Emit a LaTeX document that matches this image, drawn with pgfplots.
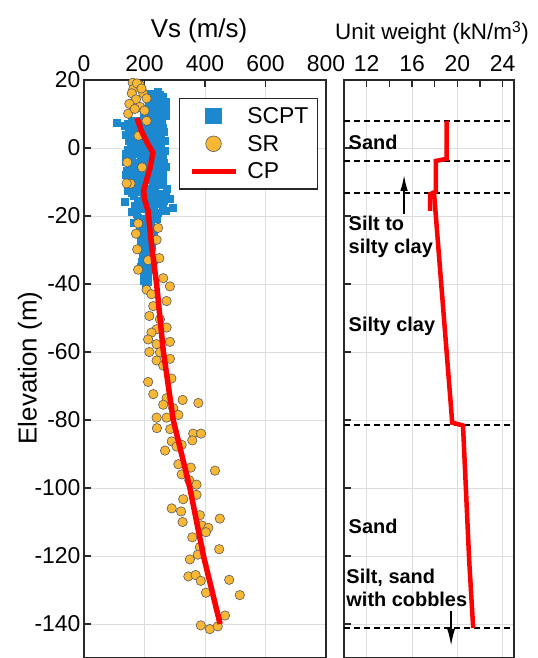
\documentclass[border=0pt]{standalone}
\usepackage{pgfplots}
\pgfplotsset{compat=1.18}
\usetikzlibrary{arrows.meta}
\usepackage{fontspec}
\setmainfont{Liberation Sans}
\definecolor{scptblue}{RGB}{28,136,208}
\definecolor{srorange}{RGB}{248,184,54}
\definecolor{gridgray}{RGB}{222,222,222}
\definecolor{axisgray}{RGB}{40,40,40}
\begin{document}
\begin{tikzpicture}
\useasboundingbox (0bp,0bp) rectangle (538bp,-658bp);
\pgfplotsset{
  every axis/.append style={
    scale only axis,
    tick align=inside,
    axis line style={line width=1.5bp, axisgray},
    every tick/.style={line width=1.2bp, axisgray},
    major tick length=7bp,
    minor tick length=7bp,
    grid=major,
    major grid style={line width=0.8bp, gridgray},
    tick label style={font=\fontsize{23}{26}\selectfont},
    xticklabel style={yshift=5bp},
    /pgf/number format/assume math mode=true,
    xtick pos=right, xticklabel pos=right,
    ytick pos=left,
    clip=false,
    clip marker paths=true,
  }
}
% ---------------- left panel -----------------
\begin{axis}[
  at={(84bp,-80bp)}, anchor=north west,
  width=242bp, height=578bp,
  xmin=0, xmax=800, ymin=-150, ymax=20,
  xtick={0,200,400,600,800},
  ytick={-140,-120,-100,-80,-60,-40,-20,0,20},
  legend style={at={(0.967,0.969)}, anchor=north east, draw=axisgray, line width=1.2bp,
     font=\fontsize{23}{26}\selectfont, inner xsep=9bp, inner ysep=9bp, row sep=10bp,
     nodes={inner sep=0bp}, cells={anchor=west}},
  legend image code/.code={\draw[mark repeat=2,mark phase=2,#1] plot coordinates {(0bp,0bp)(22bp,0bp)(44bp,0bp)};
     \path (0bp,0bp) (53bp,0bp);},
]
\addplot[only marks, mark=square*, mark size=3.5bp, mark options={fill=scptblue, draw=scptblue, line width=0bp},
  legend image post style={mark size=7.6bp}] coordinates {
(235,16)(250,15.5)(228,15)(262,14.5)(245,14)(270,13.5)(215,13)(255,12.5)(238,12)(205,11.5)
(265,11)(248,10.5)(222,10)(272,9.5)(240,9)(210,8.5)(258,8)(230,13.8)(260,10)(200,9.5)
(215,16)(245,16.5)(260,15)(240,15)(225,13.5)(265,12.5)(248,12)(230,11)(255,9.8)(232,8.8)(215,10.2)(270,11.5)
(108,7.5)(145,7)(170,7.2)(195,6.8)(230,6.5)(262,6)(150,5.5)(185,5)(215,4.6)(250,4.2)
(140,3.8)(165,3.3)(205,2.8)(240,2.5)(268,2)(155,1.5)(180,1)(225,0.6)(255,0.2)(145,-0.5)
(195,-1)(235,-1.5)(262,-2)(160,-2.5)(210,-3)(245,-3.5)(140,-4)(175,-4.5)(228,-5)(270,-5.5)
(152,-6)(195,-6.5)(250,-7)(165,-7.5)(215,-8)(240,-8.5)(148,-9)(182,-9.5)(262,-10)(138,-1.8)
(170,4.5)(190,-2)(200,1.8)(142,-6.8)(175,0)(258,-4.2)(160,6.2)(185,-8)(230,-9.5)(150,-3.2)
(160,8)(185,7.8)(248,7.5)(222,7)(135,6.5)(178,6)(208,5.8)(240,5.2)(265,4.8)(158,4)
(195,3.6)(228,3.2)(255,3)(148,2.2)(185,2)(218,1.5)(248,1.2)(168,0.5)(205,0)(240,-0.2)
(268,-0.8)(155,-1.2)(180,-1.8)(222,-2.4)(250,-2.8)(145,-3)(200,-3.8)(232,-4)(265,-4.5)(162,-5)
(188,-5.5)(245,-5.8)(210,-6.2)(170,-6.5)(230,-7)(262,-7.5)(140,-7.8)(200,-8.5)(255,-8.8)(168,-9)
(215,-9.5)(245,-10)(190,-10.3)(228,-10.8)(170,-11.2)(258,-11)(215,-12)(192,-12.5)(235,-13)(160,-13.2)
(272,-13.5)(200,-14.5)(238,-15)(180,-15.5)(215,-16)(255,-16)(230,-17.5)(200,-17.5)(270,-18.5)(180,-20.5)
(240,-21)(165,-22)
(158,-10.5)(200,-11)(235,-11.5)(275,-12)(145,-12.5)(180,-13)(250,-13.5)(165,-14)(220,-14.5)(285,-15)
(136,-15.9)(195,-16)(240,-16.5)(170,-17)(260,-17.2)(295,-17.7)(188,-18)(215,-18.5)(245,-19)(175,-19.5)
(230,-20)(160,-18.8)(205,-13)(265,-15.5)(150,-11.5)
(195,-21)(220,-22)(185,-23)(210,-24)(230,-25)(190,-26)(215,-27)(200,-28)(225,-29)(185,-30)
(210,-31)(195,-32)(230,-33)(205,-34)(190,-35)(220,-36)(200,-37)(212,-38)(198,-39)(205,-21.5)
(190,-24.5)(220,-26.5)(200,-30.5)(215,-32.5)(192,-33.5)(208,-36.5)(225,-23.5)(187,-28)
(195,-22.5)(215,-25.5)(205,-27)(195,-29)(218,-30)(205,-32)(222,-34.5)(198,-36)(212,-39.5)(205,-40)
};
\addlegendentry{SCPT}
\addplot[only marks, mark=*, mark size=4.7bp, mark options={fill=srorange, draw=black!65, line width=0.6bp},
  legend image post style={mark size=7.8bp}] coordinates {
(161,19.2)(163,17.3)(185,18.5)(158,16.1)(196,16.1)(172,14.3)(207,14.6)(146,10.1)(185,12.1)(175,19)
(190,17.5)(150,13)(200,11)(168,11.5)
(180,3.6)(207,8)(143,-4.2)(192,-5.7)(154,-10.5)(141,-10.4)
(179,-22.2)(245,-23.5)(172,-25.2)(240,-27)(176,-29.8)(249,-32.4)(179,-35.8)(212,-33)(262,-38.3)(284,-40.7)
(207,-41.7)(223,-43)(273,-45)(229,-46.5)(216,-49.4)(251,-50.4)(240,-53.3)(273,-52.8)(223,-54.3)(212,-56.3)
(284,-57)(240,-57.7)(216,-60)(251,-60.1)(284,-62)(240,-62.5)(262,-64)(212,-68.8)(289,-67.8)(229,-72.4)
(273,-73.6)(326,-74.1)(378,-75)(262,-75.5)(295,-76.5)(240,-79.3)(273,-79.3)(312,-78.5)
(241,-82.4)(285,-82.7)(290,-86.3)(306,-87.8)(323,-87.3)(361,-84)(387,-84)(358,-86)(268,-89)(312,-93)
(353,-94)(433,-94.9)(323,-96)(348,-97.7)(372,-99)(328,-103.3)(372,-102)(290,-106)(321,-106.9)(326,-110)
(383,-108)(449,-109)(389,-111)(411,-111.7)(403,-113)(358,-114.5)(383,-117.4)(447,-118)(376,-119.6)(350,-121)
(345,-126)(369,-125.6)(386,-127.3)(480,-127)(515,-131.5)(403,-130.8)(466,-137.5)(386,-140.4)(416,-141.5)(442,-140.7)
};
\addlegendentry{SR}
\addplot[red, line width=5.5bp, line join=round] coordinates {
(175,8.8)(190,5)(212,1)(228,-1.3)(218,-6)(205,-10)(197,-12.5)(200,-15)(212,-18.5)(218,-24)(224,-29)(240,-40)(262,-59.6)(295,-80)(350,-100)(395,-120)(450,-140)
};
\addlegendentry{CP}
\end{axis}
% ---------------- right panel -----------------
\begin{axis}[
  at={(344bp,-80bp)}, anchor=north west,
  width=170bp, height=578bp,
  xmin=10, xmax=25, ymin=-150, ymax=20,
  xtick={12,16,20,24}, minor xtick={14,18,22},
  ytick={-140,-120,-100,-80,-60,-40,-20,0,20}, yticklabels={},
]
\addplot[black, line width=1.6bp, dash pattern=on 6bp off 4bp] coordinates {(10,8)(25,8)};
\addplot[black, line width=1.6bp, dash pattern=on 6bp off 4bp] coordinates {(10,-3.8)(25,-3.8)};
\addplot[black, line width=1.6bp, dash pattern=on 6bp off 4bp] coordinates {(10,-13.2)(25,-13.2)};
\addplot[black, line width=1.6bp, dash pattern=on 6bp off 4bp] coordinates {(10,-81.5)(25,-81.5)};
\addplot[black, line width=1.6bp, dash pattern=on 6bp off 4bp] coordinates {(10,-141.2)(25,-141.2)};
\addplot[red, line width=4.5bp] coordinates {(19.05,8)(19.05,-3.2)(18.1,-3.8)(18.1,-12.8)(17.6,-13.6)(17.6,-18.5)};
\addplot[red, line width=4.5bp] coordinates {(17.95,-13.5)(19.55,-80.8)(20.5,-81.6)(21.05,-121.6)(21.4,-141.2)};
\draw[-{Latex[length=16bp,width=7.5bp]}, line width=1.6bp] (axis cs:15.3,-19.3) -- (axis cs:15.3,-7.9);
\draw[-{Latex[length=17bp,width=8bp]}, line width=1.6bp] (axis cs:19.45,-136.2) -- (axis cs:19.45,-146.4);
\begin{scope}[every node/.style={font=\bfseries\fontsize{20}{23}\selectfont, anchor=west, align=left, inner sep=0bp}]
\node at (axis cs:10.4,1.8) {Sand};
\node at (axis cs:10.4,-26.1) {Silt to\\silty clay};
\node at (axis cs:10.4,-52.6) {Silty clay};
\node at (axis cs:10.4,-111.4) {Sand};
\node at (axis cs:10.2,-129.3) {Silt, sand\\with cobbles};
\end{scope}
\end{axis}
% ---------------- titles -----------------
\node at (199bp,-31bp) {\fontsize{26}{30}\selectfont Vs (m/s)};
\node at (432bp,-33bp) {\fontsize{22.5}{25}\selectfont Unit weight (kN/m$^{\mathrm{3}}$)};
\node[rotate=90] at (30bp,-368bp) {\fontsize{26}{30}\selectfont Elevation (m)};
\end{tikzpicture}
\end{document}
